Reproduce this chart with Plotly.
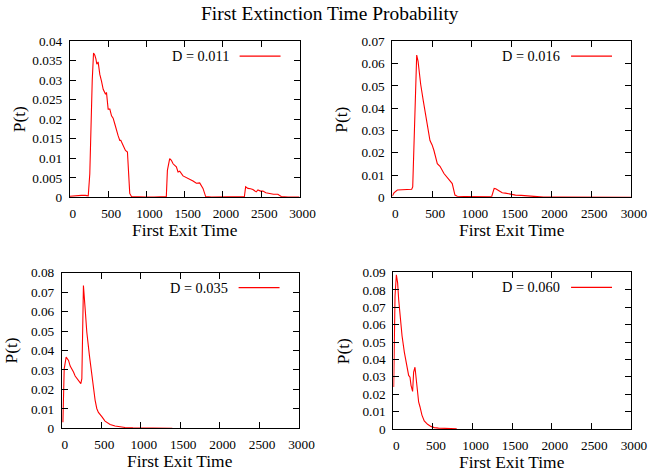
import plotly.graph_objects as go

# ---------------- data ----------------
labels = ["D = 0.011", "D = 0.016", "D = 0.035", "D = 0.060"]

x_d011 = [0, 50, 100, 150, 200, 240, 260, 274, 292, 309, 326, 340, 352, 369, 391, 413, 435, 466, 478,
          500, 522, 544, 565, 587, 609, 630, 652, 665, 696, 726, 752, 767, 782, 804, 900, 1000, 1100,
          1200, 1260, 1274, 1304, 1326, 1348, 1370, 1391, 1413, 1435, 1478, 1522, 1565, 1609, 1652,
          1696, 1739, 1774, 1850, 2000, 2150, 2280, 2296, 2326, 2360, 2391, 2435, 2457, 2490, 2522,
          2560, 2609, 2660, 2717, 2761, 2850, 3000]
p_d011 = [0.0003, 0.0004, 0.0004, 0.0005, 0.0005, 0.0004, 0.0060, 0.0188, 0.0300, 0.0370, 0.0364,
          0.0355, 0.0341, 0.0347, 0.0315, 0.0298, 0.0277, 0.0264, 0.0269, 0.0226, 0.0226, 0.0209,
          0.0203, 0.0188, 0.0171, 0.0158, 0.0146, 0.0146, 0.0133, 0.0120, 0.0116, 0.0061, 0.0010,
          0.0002, 0.0001, 0.0001, 0.0001, 0.0001, 0.0002, 0.0069, 0.0099, 0.0095, 0.0086, 0.0082,
          0.0078, 0.0065, 0.0067, 0.0055, 0.0051, 0.0046, 0.0042, 0.0036, 0.0037, 0.0023, 0.0002,
          0.0001, 0.0001, 0.0001, 0.0002, 0.0027, 0.0023, 0.0022, 0.0020, 0.0014, 0.0019, 0.0016,
          0.0016, 0.0012, 0.0010, 0.0008, 0.0008, 0.0002, 0.0001, 0.0001]

x_d016 = [0, 20, 63, 100, 150, 200, 243, 256, 306, 323, 356, 389, 419, 448, 473, 500, 523, 565, 599,
          649, 712, 753, 787, 816, 900, 1000, 1100, 1200, 1250, 1280, 1300, 1340, 1381, 1420, 1464,
          1548, 1620, 1716, 1778, 1900, 2100, 2280, 2300, 2350, 2400, 2600, 2800, 3000]
p_d016 = [0.0006, 0.0020, 0.0033, 0.0034, 0.0034, 0.0035, 0.0036, 0.0047, 0.0638, 0.0611, 0.0507,
          0.0433, 0.0374, 0.0312, 0.0255, 0.0235, 0.0210, 0.0151, 0.0139, 0.0107, 0.0077, 0.0062,
          0.0010, 0.0005, 0.0004, 0.0004, 0.0004, 0.0004, 0.0005, 0.0040, 0.0039, 0.0030, 0.0021,
          0.0019, 0.0015, 0.0010, 0.0009, 0.0007, 0.0003, 0.0001, 0.0001, 0.0001, 0.0003, 0.0002,
          0.0001, 0.0000, 0.0000, 0.0000]

x_d035 = [13, 29, 54, 84, 105, 126, 147, 168, 190, 210, 240, 253, 273, 295, 316, 349, 379, 400, 421,
          442, 463, 506, 547, 611, 674, 737, 800, 900, 1000, 1100, 1200, 1300, 1400]
p_d035 = [0.0031, 0.0306, 0.0366, 0.0349, 0.0320, 0.0306, 0.0290, 0.0269, 0.0258, 0.0247, 0.0230,
          0.0255, 0.0735, 0.0613, 0.0494, 0.0374, 0.0272, 0.0187, 0.0145, 0.0102, 0.0082, 0.0060,
          0.0037, 0.0020, 0.0012, 0.0008, 0.0004, 0.0002, 0.0002, 0.0001, 0.0001, 0.0001, 0.0000]

x_d060 = [4, 21, 38, 54, 67, 84, 110, 139, 168, 193, 210, 223, 243, 256, 273, 294, 319, 336, 361,
          390, 432, 474, 516, 570, 621, 700, 800]
p_d060 = [0.0242, 0.0763, 0.0887, 0.0840, 0.0745, 0.0650, 0.0535, 0.0441, 0.0365, 0.0308, 0.0298,
          0.0251, 0.0216, 0.0327, 0.0355, 0.0260, 0.0156, 0.0128, 0.0080, 0.0046, 0.0027, 0.0015,
          0.0008, 0.0005, 0.0004, 0.0002, 0.0001]

y_max = [0.04, 0.07, 0.08, 0.09]
y_step = [0.005, 0.01, 0.01, 0.01]
x_max = 3000
x_step = 500

title = "First Extinction Time Probability"
x_title = "First Exit Time"
y_title = "P(t)"

# ---------------- layout ----------------
S = 1.024          # the captured page is slightly larger than the window
DY = -5.5          # vertical correction measured from a test render
W, H = round(663 * S), round(476 * S)
FONT = "Liberation Serif"
# plot boxes in target pixels: left, right, top, bottom
boxes = [(70, 300, 40, 197.3), (393, 632, 40, 197.3), (62, 299, 273.3, 430), (394, 632, 273, 430.7)]
series = [(x_d011, p_d011), (x_d016, p_d016), (x_d035, p_d035), (x_d060, p_d060)]

def px(x):
    return x * S / W

def py(y):
    return 1 - (y + DY) * S / H

def fs(size):
    return size * S

fig = go.Figure()
annotations = []
shapes = []
for i, ((xs, ys), (l, r, t, b)) in enumerate(zip(series, boxes)):
    n = "" if i == 0 else str(i + 1)
    fig.add_trace(go.Scatter(x=xs, y=ys, mode="lines", xaxis="x" + n, yaxis="y" + n,
                             line=dict(color="#ff0000", width=1.1), showlegend=False,
                             hoverinfo="skip"))
    common = dict(showline=True, linecolor="black", linewidth=1, mirror="allticks",
                  ticks="inside", ticklen=6, tickcolor="black", tickwidth=1,
                  showgrid=False, zeroline=False,
                  tickfont=dict(family=FONT, size=fs(13), color="black"))
    fig.layout["xaxis" + n] = dict(domain=[px(l), px(r)], anchor="y" + n, range=[0, x_max],
                                   dtick=x_step, tick0=0, ticklabelstandoff=4, ticklabelshift=3, **common)
    fig.layout["yaxis" + n] = dict(domain=[py(b), py(t)], anchor="x" + n, range=[0, y_max[i]],
                                   dtick=y_step[i], tick0=0, ticklabelstandoff=4, **common)
    # axis titles
    annotations.append(dict(text=x_title, x=px((l + r) / 2), y=py(b + 33), xref="paper", yref="paper",
                            xanchor="center", yanchor="middle", showarrow=False,
                            font=dict(family=FONT, size=fs(17), color="black")))
    annotations.append(dict(text=y_title, x=px(l - 51), y=py((t + b) / 2), xref="paper", yref="paper",
                            xanchor="center", yanchor="middle", showarrow=False, textangle=-90,
                            font=dict(family=FONT, size=fs(17), color="black")))
    # gnuplot-style key: text, then line sample on its right
    annotations.append(dict(text=labels[i], x=px(r - 69), y=py(t + 15), xref="paper", yref="paper",
                            xanchor="right", yanchor="middle", showarrow=False,
                            font=dict(family=FONT, size=fs(14), color="black")))
    shapes.append(dict(type="line", xref="paper", yref="paper", x0=px(r - 60), x1=px(r - 19),
                       y0=py(t + 15), y1=py(t + 15), line=dict(color="#ff0000", width=1.1)))

annotations.append(dict(text=title, x=px(331), y=py(12), xref="paper", yref="paper", xanchor="center",
                        yanchor="middle", showarrow=False, font=dict(family=FONT, size=fs(19), color="black")))

fig.update_layout(width=W, height=H, margin=dict(l=0, r=0, t=0, b=0),
                  paper_bgcolor="white", plot_bgcolor="white", hovermode=False,
                  annotations=annotations, shapes=shapes, font=dict(family=FONT))

fig.write_html("out.html", config={"displayModeBar": False, "responsive": False},
               post_script="document.body.style.margin='0';document.documentElement.style.margin='0';"
                           "document.body.style.overflow='hidden';")
